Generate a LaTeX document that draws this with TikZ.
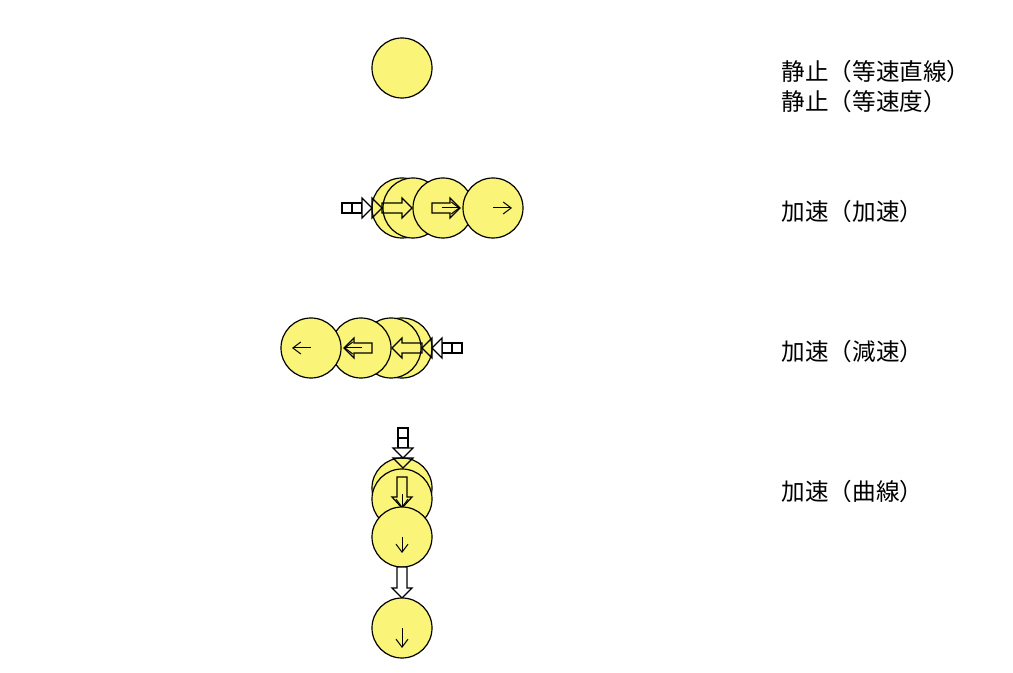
\documentclass[tikz,border=0pt]{standalone}
\usepackage{fontspec}
\newfontfamily\jp{Noto Sans CJK JP}
\usetikzlibrary{arrows.meta}
\definecolor{ballyellow}{RGB}{250,245,120}
% block arrows: [style]{axis}{tail}{head back}{tip}
\newcommand{\blockh}[5][]{\draw[#1] (#3,#2-5) -- (#4,#2-5) -- (#4,#2-10) -- (#5,#2) -- (#4,#2+10) -- (#4,#2+5) -- (#3,#2+5) -- cycle;}
\newcommand{\blockv}[5][]{\draw[#1] (#2-5,#3) -- (#2-5,#4) -- (#2-10,#4) -- (#2,#5) -- (#2+10,#4) -- (#2+5,#4) -- (#2+5,#3) -- cycle;}
\begin{document}
\begin{tikzpicture}[x=0.5pt,y=-0.5pt,line width=0.6pt,
    ball/.style={circle,draw,fill=ballyellow,minimum size=30pt,inner sep=0pt},
    hollow/.style={draw,fill=white},
    thinarrow/.style={-{Straight Barb[length=4pt,width=6pt]},line width=0.5pt},
    jptext/.style={font=\jp\fontsize{11.8pt}{14pt}\selectfont,anchor=west,inner sep=0pt}]
  \useasboundingbox (0,0) rectangle (1013,673);
  % at rest
  \node[ball] (s1) at (402,68) {};
  % speeding up
  \node[ball] (a1) at (402,208) {};
  \draw[hollow] (342,203) rectangle (352,213);
  \draw[hollow] (352,203) rectangle (362,213);
  \draw[hollow] (362,198) -- (372,208) -- (362,218) -- cycle;
  \draw (372,198) -- (382,208) -- (372,218) -- cycle;
  \node[ball] (a2) at (413,208) {};
  \blockh{208}{382}{402}{412}
  \node[ball] (a3) at (443,208) {};
  \blockh{208}{432}{450}{460}
  \draw[thinarrow] (442,208) -- (460,208);
  \node[ball] (a4) at (493,208) {};
  \draw[thinarrow] (a4.center) -- ++(19,0);
  % slowing down
  \node[ball] (d1) at (402,348) {};
  \draw[hollow] (462,343) rectangle (452,353);
  \draw[hollow] (452,343) rectangle (442,353);
  \draw[hollow] (442,338) -- (432,348) -- (442,358) -- cycle;
  \draw (432,338) -- (422,348) -- (432,358) -- cycle;
  \node[ball] (d2) at (391,348) {};
  \blockh{348}{422}{402}{392}
  \node[ball] (d3) at (361,348) {};
  \blockh{348}{372}{354}{344}
  \draw[thinarrow] (362,348) -- (344,348);
  \node[ball] (d4) at (311,348) {};
  \draw[thinarrow] (d4.center) -- ++(-19,0);
  % curve
  \node[ball] (c1) at (402,488) {};
  \draw[hollow] (398,428) rectangle (408,438);
  \draw[hollow] (398,438) rectangle (408,448);
  \draw[hollow] (393,448) -- (403,458) -- (413,448) -- cycle;
  \draw (393,458) -- (403,468) -- (413,458) -- cycle;
  \node[ball] (c2) at (402,499) {};
  \blockv{402}{477}{497}{508}
  \draw[thinarrow] (402,494) -- (402,508);
  \node[ball] (c3) at (402,537) {};
  \draw[thinarrow] (c3.center) -- ++(0,16);
  \blockv[hollow]{402}{567}{588}{598}
  \node[ball] (c4) at (402,628) {};
  \draw[thinarrow] (c4.center) -- ++(0,20);
  % captions
  \node[jptext] (t1) at (781,72) {静止（等速直線）};
  \node[jptext] (t2) at (781,102) {静止（等速度）};
  \node[jptext] (t3) at (781,212) {加速（加速）};
  \node[jptext] (t4) at (781,352) {加速（減速）};
  \node[jptext] (t5) at (781,492) {加速（曲線）};
\end{tikzpicture}
\end{document}
